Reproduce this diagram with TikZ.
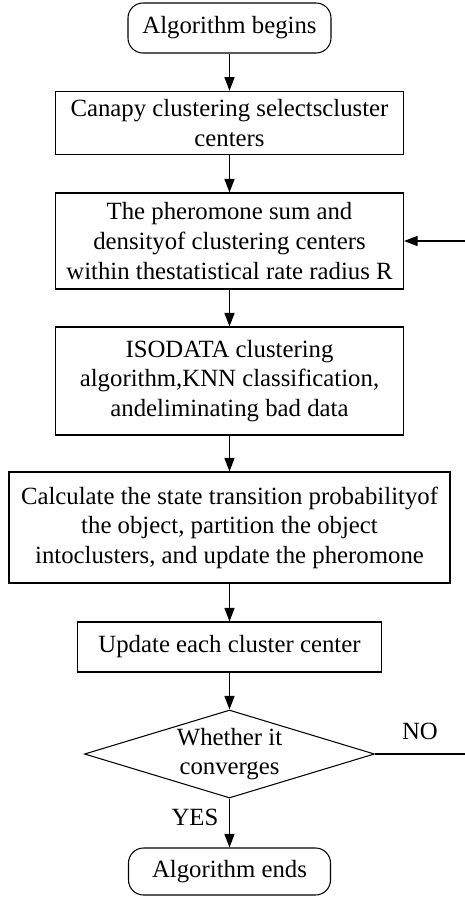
\documentclass[tikz,border=0pt]{standalone}
\usepackage{fontspec}
\setmainfont{Liberation Serif}
\usetikzlibrary{arrows.meta, positioning, shapes.geometric}

\begin{document}
\begin{tikzpicture}[
    every node/.style={font=\fontsize{14.1}{16.8}\selectfont, align=center, inner sep=0pt},
    terminal/.style={draw, rounded corners=0.3cm, line width=0.6pt},
    process/.style={draw, line width=0.6pt},
    decision/.style={draw, diamond, aspect=3.3, line width=0.6pt},
    flow/.style={-{Triangle[length=0.27cm, width=0.2cm]}, line width=0.75pt},
]
\useasboundingbox (0,0) rectangle (9.3,-17.94);

% Define steps (nodes)
\node[terminal, minimum width=4.06cm, minimum height=1.0cm] (begin) at (4.59,-0.56) {Algorithm begins};
\node[process, minimum width=6.96cm, minimum height=1.27cm] (canopy) at (4.59,-2.46) {Canapy clustering selectscluster\\centers};
\node[process, minimum width=6.96cm, minimum height=1.92cm] (density) at (4.59,-4.82) {The pheromone sum and\\densityof clustering centers\\within thestatistical rate radius R};
\node[process, minimum width=6.96cm, minimum height=2.16cm] (isodata) at (4.59,-7.62) {ISODATA clustering\\algorithm,KNN classification,\\andeliminating bad data};
\node[process, minimum width=8.82cm, minimum height=2.22cm] (transit) at (4.59,-10.55) {Calculate the state transition probabilityof\\the object, partition the object\\intoclusters, and update the pheromone};
\node[process, minimum width=6.08cm, minimum height=1.0cm] (update) at (4.59,-12.94) {Update each cluster center};
\node[decision, minimum width=5.8cm, minimum height=1.76cm] (conv) at (4.59,-15.08) {Whether it\\converges};
\node[terminal, minimum width=4.04cm, minimum height=0.94cm] (end) at (4.59,-17.43) {Algorithm ends};

% Free ends of the feedback loop at the right edge
\coordinate (noend) at (9.3,-15.08);
\coordinate (backin) at (9.3,-4.82);

% Define connections (edges)
\draw[flow] (begin) -- (canopy);
\draw[flow] (canopy) -- (density);
\draw[flow] (density) -- (isodata);
\draw[flow] (isodata) -- (transit);
\draw[flow] (transit) -- (update);
\draw[flow] (update) -- (conv);
\draw[flow] (conv) -- (end);
\draw[line width=0.75pt] (conv.east) -- (noend);
\draw[flow] (backin) -- (density.east);

% Branch labels
\node (yes) at (3.9,-16.34) {YES};
\node (no) at (8.4,-14.62) {NO};

\end{tikzpicture}
\end{document}
